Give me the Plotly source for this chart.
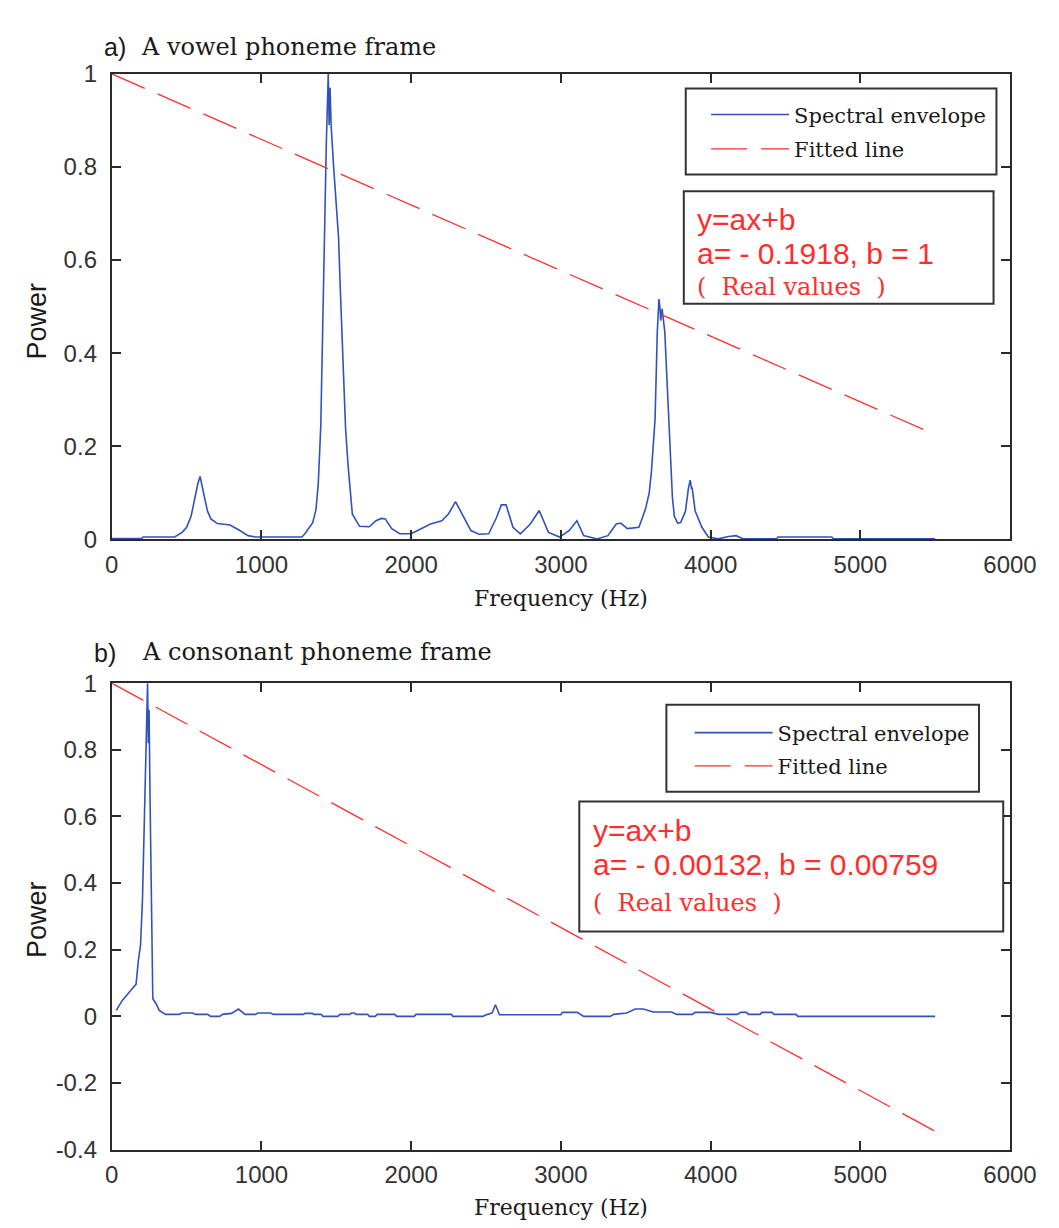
import plotly.graph_objects as go

W, H = 1059, 1228

# ---------------- data ----------------
vowel_freq = [0, 200, 210, 420, 470, 500, 530, 555, 575, 590, 605, 620, 640, 662, 705, 790, 855, 910, 960,
              1270, 1290, 1342, 1364, 1379, 1396, 1407, 1417, 1433, 1446, 1452, 1458, 1465, 1482, 1515, 1525,
              1536, 1551, 1562, 1579, 1590, 1607, 1655, 1720, 1765, 1800, 1827, 1870, 1924, 2000, 2043, 2129,
              2205, 2250, 2296, 2343, 2399, 2453, 2518, 2570, 2602, 2634, 2680, 2729, 2796, 2855, 2917, 2991,
              3056, 3107, 3152, 3241, 3314, 3370, 3400, 3444, 3521, 3564, 3590, 3605, 3629, 3644, 3655, 3661,
              3667, 3676, 3694, 3709, 3726, 3735, 3745, 3758, 3780, 3800, 3832, 3852, 3864, 3872, 3877, 3897,
              3942, 3985, 4050, 4120, 4170, 4220, 4440, 4450, 4810, 4820, 5500]
vowel_power = [0.002, 0.002, 0.005, 0.005, 0.015, 0.026, 0.05, 0.089, 0.12, 0.135, 0.115, 0.089, 0.06, 0.044,
               0.034, 0.031, 0.019, 0.008, 0.005, 0.005, 0.012, 0.036, 0.064, 0.118, 0.243, 0.446, 0.646,
               0.85, 1.0, 0.89, 0.97, 0.89, 0.80, 0.647, 0.55, 0.446, 0.348, 0.236, 0.156, 0.118, 0.054,
               0.028, 0.027, 0.04, 0.045, 0.044, 0.023, 0.012, 0.012, 0.019, 0.033, 0.040, 0.055, 0.081,
               0.054, 0.019, 0.011, 0.012, 0.047, 0.074, 0.074, 0.026, 0.012, 0.033, 0.062, 0.015, 0.005,
               0.019, 0.040, 0.008, 0.001, 0.008, 0.033, 0.035, 0.023, 0.026, 0.064, 0.10, 0.146, 0.258,
               0.446, 0.516, 0.50, 0.47, 0.495, 0.446, 0.34, 0.236, 0.153, 0.09, 0.049, 0.035, 0.036, 0.06,
               0.11, 0.127, 0.11, 0.11, 0.061, 0.026, 0.005, 0.001, 0.006, 0.008, 0.001, 0.001, 0.005, 0.005,
               0.001, 0.001]

cons_freq = [30, 69, 123, 162, 177, 192, 205, 216, 227, 239, 244, 249, 256, 265, 274, 296, 317, 360, 450,
             470, 540, 560, 640, 660, 720, 740, 800, 846, 890, 960, 975, 1060, 1080, 1280, 1290, 1340, 1350,
             1400, 1410, 1510, 1525, 1590, 1600, 1620, 1631, 1710, 1720, 1760, 1773, 1890, 1903, 2020, 2032,
             2270, 2278, 2480, 2492, 2540, 2563, 2590, 3000, 3010, 3110, 3152, 3330, 3353, 3440, 3496, 3551,
             3617, 3740, 3773, 3880, 3896, 4000, 4052, 4180, 4200, 4240, 4252, 4330, 4343, 4410, 4425, 4570,
             4583, 5500]
cons_power = [0.018, 0.047, 0.076, 0.096, 0.165, 0.214, 0.351, 0.586, 0.821, 1.0, 0.82, 0.92, 0.64, 0.341,
              0.053, 0.038, 0.018, 0.006, 0.006, 0.01, 0.01, 0.006, 0.006, 0.0, 0.0, 0.006, 0.009, 0.022,
              0.006, 0.006, 0.01, 0.01, 0.006, 0.006, 0.009, 0.009, 0.006, 0.006, 0.0, 0.0, 0.006, 0.006,
              0.01, 0.01, 0.006, 0.006, 0.0, 0.0, 0.006, 0.006, 0.0, 0.0, 0.006, 0.006, 0.0, 0.0, 0.003,
              0.01, 0.035, 0.005, 0.005, 0.012, 0.012, 0.0, 0.0, 0.006, 0.01, 0.022, 0.022, 0.013, 0.013,
              0.006, 0.006, 0.012, 0.012, 0.006, 0.006, 0.012, 0.012, 0.006, 0.006, 0.012, 0.012, 0.006,
              0.006, 0.0, 0.0]

fit_freq = [0, 5500]
vowel_fit = [1.0, 0.225]
cons_fit = [1.0, -0.345]

x_ticks = [0, 1000, 2000, 3000, 4000, 5000, 6000]
x_tick_text = ["0", "1000", "2000", "3000", "4000", "5000", "6000"]
top_y_ticks = [0, 0.2, 0.4, 0.6, 0.8, 1]
top_y_text = ["0", "0.2", "0.4", "0.6", "0.8", "1"]
bot_y_ticks = [-0.4, -0.2, 0, 0.2, 0.4, 0.6, 0.8, 1]
bot_y_text = ["-0.4", "-0.2", "0", "0.2", "0.4", "0.6", "0.8", "1"]

series_names = ["Spectral envelope", "Fitted line"]
panel_labels = ["a)", "b)"]
panel_titles = ["A vowel phoneme frame", "A consonant phoneme frame"]
formula_lines_a = ["y=ax+b", "a= - 0.1918, b = 1", "(  Real values  )"]
formula_lines_b = ["y=ax+b", "a= - 0.00132, b = 0.00759", "(  Real values  )"]

# ---------------- styles ----------------
BLUE = "#3152BC"
RED = "#FF2E2E"
AX = "#2a2a2a"
SANS = "Liberation Sans, Arial, sans-serif"
SERIF = "DejaVu Serif, serif"
DASH = "36px,14px"


def px(x):
    return x / W


def py(y):
    return 1 - y / H


fig = go.Figure()
fig.add_trace(go.Scatter(x=vowel_freq, y=vowel_power, mode="lines", name=series_names[0],
                         line=dict(color=BLUE, width=1.6), xaxis="x", yaxis="y",
                         legend="legend", legendgroup="a1"))
fig.add_trace(go.Scatter(x=fit_freq, y=vowel_fit, mode="lines", name=series_names[1],
                         line=dict(color=RED, width=1.3, dash=DASH), xaxis="x", yaxis="y",
                         legend="legend", legendgroup="a2"))
fig.add_trace(go.Scatter(x=cons_freq, y=cons_power, mode="lines", name=series_names[0],
                         line=dict(color=BLUE, width=1.6), xaxis="x2", yaxis="y2",
                         legend="legend2", legendgroup="b1"))
fig.add_trace(go.Scatter(x=fit_freq, y=cons_fit, mode="lines", name=series_names[1],
                         line=dict(color=RED, width=1.3, dash=DASH), xaxis="x2", yaxis="y2",
                         legend="legend2", legendgroup="b2"))

common = dict(showline=True, linecolor=AX, linewidth=2, mirror="ticks", ticks="inside", ticklen=9,
              tickwidth=1.6, tickcolor=AX, showgrid=False, zeroline=False,
              tickfont=dict(family=SANS, size=24, color="#333333"))

legend_font = dict(family=SERIF, size=21, color="#1a1a1a")
fig.update_layout(
    width=W, height=H, autosize=False,
    margin=dict(l=0, r=0, t=0, b=0),
    paper_bgcolor="white", plot_bgcolor="white",
    xaxis=dict(domain=[px(100), px(1028)], anchor="y", range=[0, 6000], tickvals=x_ticks,
               ticktext=x_tick_text, ticklabelstandoff=3, **common),
    yaxis=dict(domain=[py(529), py(53)], anchor="x", range=[0, 1], tickvals=top_y_ticks,
               ticktext=top_y_text, ticklabelstandoff=8, **common),
    xaxis2=dict(domain=[px(100), px(1028)], anchor="y2", range=[0, 6000], tickvals=x_ticks,
                ticktext=x_tick_text, ticklabelstandoff=3, **common),
    yaxis2=dict(domain=[py(1153), py(676)], anchor="x2", range=[-0.4, 1], tickvals=bot_y_ticks,
                ticktext=bot_y_text, ticklabelstandoff=8, **common),
    legend=dict(x=px(714), y=py(74), xanchor="left", yanchor="top", bgcolor="rgba(0,0,0,0)",
                borderwidth=0, font=legend_font, itemwidth=78, tracegroupgap=4),
    legend2=dict(x=px(697), y=py(706), xanchor="left", yanchor="top", bgcolor="rgba(0,0,0,0)",
                 borderwidth=0, font=legend_font, itemwidth=78, tracegroupgap=3),
)

shapes = []
# legend frames
for (x0, y0, x1, y1) in [(693, 68, 1014, 156), (673, 698, 996, 787)]:
    shapes.append(dict(type="rect", xref="paper", yref="paper", x0=px(x0), x1=px(x1), y0=py(y1), y1=py(y0),
                       line=dict(color="#333333", width=2), fillcolor="rgba(0,0,0,0)", layer="above"))
# formula frames
for (x0, y0, x1, y1) in [(691, 173, 1011, 288), (583, 797, 1021, 930)]:
    shapes.append(dict(type="rect", xref="paper", yref="paper", x0=px(x0), x1=px(x1), y0=py(y1), y1=py(y0),
                       line=dict(color="#333333", width=2), fillcolor="white", layer="above"))
fig.update_layout(shapes=shapes)

ann = []


def text(x, y, s, font, size, color="#1a1a1a", xanchor="left", angle=0):
    ann.append(dict(x=px(x), y=py(y), xref="paper", yref="paper", text=s, showarrow=False,
                    xanchor=xanchor, yanchor="middle", textangle=angle,
                    font=dict(family=font, size=size, color=color)))


# panel titles
text(90, 26, panel_labels[0], SANS, 25)
text(128, 26, panel_titles[0], SERIF, 24)
text(80, 645, panel_labels[1], SANS, 25)
text(129, 644, panel_titles[1], SERIF, 24)
# axis titles
for cy in (306, 918):
    text(23, cy, "Power", SANS, 27, xanchor="center", angle=-90)
text(564, 589, "Frequency (Hz)", SERIF, 22, xanchor="center")
text(564, 1212, "Frequency (Hz)", SERIF, 22, xanchor="center")
# formula boxes
for (x0, ys, lines) in [(703, (202, 237, 271), formula_lines_a), (595, (827, 861, 901), formula_lines_b)]:
    text(x0, ys[0], lines[0], SANS, 30, color=RED)
    text(x0, ys[1], lines[1], SANS, 30, color=RED)
    text(x0, ys[2], lines[2], SERIF, 24, color=RED)

fig.update_layout(annotations=ann)

fig.write_html("out.html")
